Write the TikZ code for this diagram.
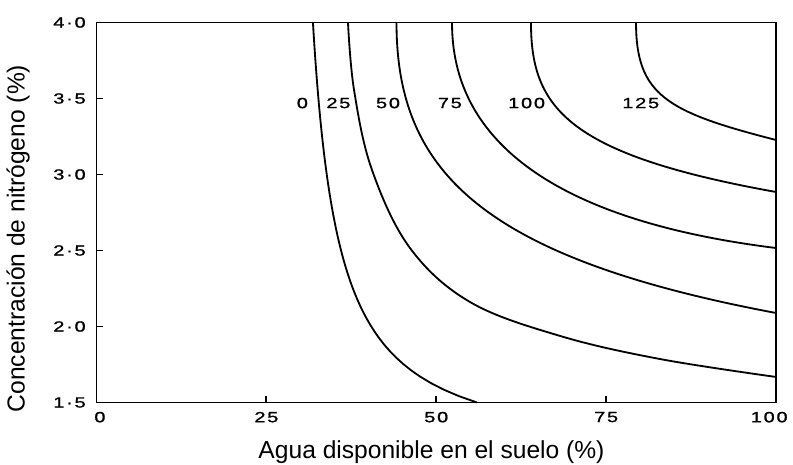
\documentclass[tikz,border=0pt]{standalone}
\usepackage{fontspec}
\setmainfont{Liberation Sans}
\newfontfamily\tickfont[FakeStretch=1.35,LetterSpace=12,FakeBold=1.2]{Liberation Sans}
\newcommand{\axisfont}{\fontsize{17.5}{20}\selectfont}

\tikzset{
  isoline/.style={line width=1.3pt, line join=round},
  ticklab/.style={font=\fontsize{10.5}{12}\tickfont, inner sep=2pt},
}

\begin{document}
\begin{tikzpicture}[x=0.169875cm, y=3.8cm]
  \useasboundingbox (-14.202,1.0954) rectangle (102.502,4.148);

  % frame and ticks
  \draw[line width=1.4pt]
      (0,1.5) rectangle (100,4)
      (0,4.0) node[left=5pt, ticklab]{4·0}
      (0,3.5) -- ++(1,0) (0,3.5) node[left=5pt, ticklab]{3·5}
      (0,3.0) -- ++(1,0) (0,3.0) node[left=5pt, ticklab]{3·0}
      (0,2.5) -- ++(1,0) (0,2.5) node[left=5pt, ticklab]{2·5}
      (0,2.0) -- ++(1,0) (0,2.0) node[left=5pt, ticklab]{2·0}
      (0,1.5) node[left=5pt, ticklab]{1·5}
      (0.5,1.5) node[below=4pt, ticklab]{0}
      (25,1.5) -- ++(0,.04) (25,1.5) node[below=4pt, ticklab]{25}
      (50,1.5) -- ++(0,.04) (50,1.5) node[below=4pt, ticklab]{50}
      (75,1.5) -- ++(0,.04) (75,1.5) node[below=4pt, ticklab]{75}
      (99,1.5) node[below=4pt, ticklab]{100}
      ;

  % axis titles
  \node (xtitle) at (49.3,1.174) {\axisfont Agua disponible en el suelo (\%)};
  \node[rotate=90] (ytitle) at (-11.55,2.579) {\axisfont Concentración de nitrógeno (\%)};

  % isolines
  \draw[isoline] plot[domain=1.5:4, samples=60] ({27.99+11.2/(\x-1.1)}, \x);
  \draw[isoline] plot[smooth, tension=.6] coordinates {
      (37.01,4.000) (37.90,3.556) (40.54,3.030) (46.14,2.516)
      (54.97,2.161) (68.21,1.938) (82.93,1.786) (100,1.668)};
  \draw[isoline] (44.15,4) .. controls (44.15,3.0316) and (56.34,2.4559) .. (100,2.0888);
  \draw[isoline] (52.32,4) .. controls (52.32,3.5395) and (57.22,2.7533) .. (100,2.5164);
  \draw[isoline] (63.94,4) .. controls (63.94,3.4408) and (69.20,3.1322) .. (100,2.8849);
  \draw[isoline] (79.40,4) .. controls (79.40,3.5224) and (83.91,3.4112) .. (100,3.2270);

  % isoline values
  \node[ticklab] (v0)   at (30.3,3.47) {0};
  \node[ticklab] (v25)  at (35.6,3.47) {25};
  \node[ticklab] (v50)  at (42.9,3.47) {50};
  \node[ticklab] (v75)  at (52.0,3.47) {75};
  \node[ticklab] (v100) at (63.3,3.47) {100};
  \node[ticklab] (v125) at (80.1,3.47) {125};
\end{tikzpicture}
\end{document}
